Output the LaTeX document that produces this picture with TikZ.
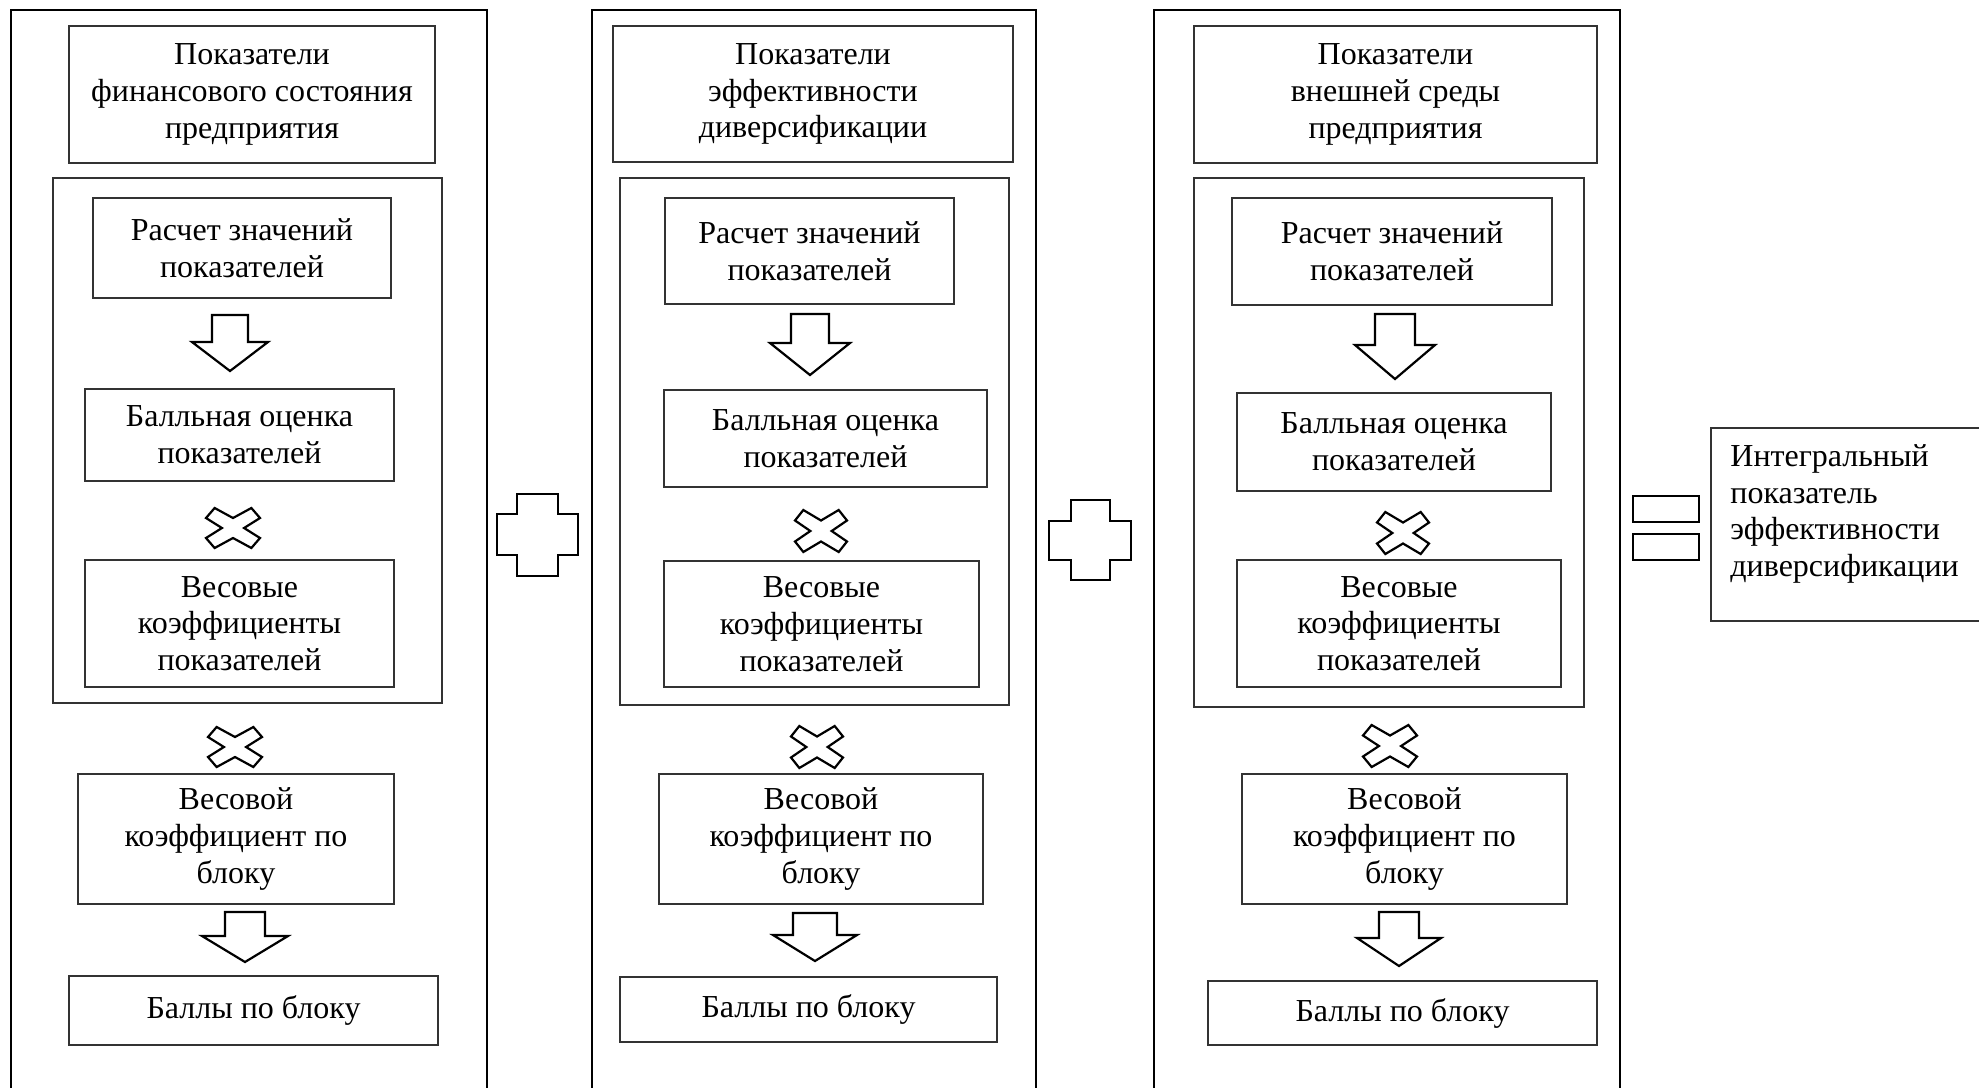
\documentclass[tikz,border=0pt]{standalone}
\usepackage{fontspec}
\setmainfont{Liberation Serif}
\tikzset{
  bx/.style={draw=black!80, line width=0.65pt, inner sep=0pt, align=center,
             font=\fontsize{16}{18.4}\selectfont},
  grp/.style={draw=black!80, line width=0.65pt, inner sep=0pt},
  outer/.style={draw=black, line width=1.3pt},
  sym/.style={draw=black, line width=1.1pt, line join=miter},
  txt/.style={inner sep=0pt, font=\fontsize{16}{18.4}\selectfont}
}
% rectangle node from corner pixels: [style]{name}{x1}{y1}{x2}{y2}{text}
\newcommand\bnode[7][bx]{%
  \node[#1, minimum width={(#5-#3)*0.5pt}, minimum height={(#6-#4)*0.5pt}]
    (#2) at ({(#3+#5)/2},{(#4+#6)/2}) {#7};}
% block arrow pointing down: cx, shaft half width, head half width, top, head top, tip
\newcommand\dnarrow[6]{%
  \draw[sym] ({#1-#2},#4) -- ({#1+#2},#4) -- ({#1+#2},#5) -- ({#1+#3},#5)
    -- (#1,#6) -- ({#1-#3},#5) -- ({#1-#2},#5) -- cycle;}
% multiplication sign: cx, cy, half width, half height
\newcommand\mulsign[4]{%
  \begin{scope}[shift={(#1,#2)}, xscale=#3, yscale=#4]
    \draw[sym] (0,0.5) -- (0.68,1) -- (1,0.5) -- (0.41,0) -- (1,-0.5) -- (0.68,-1)
      -- (0,-0.5) -- (-0.68,-1) -- (-1,-0.5) -- (-0.41,0) -- (-1,0.5) -- (-0.68,1) -- cycle;
  \end{scope}}
% plus sign: x1, x2 (outer), xi1, xi2 (inner), y1, y2 (outer), yi1, yi2 (inner)
\newcommand\plussign[8]{%
  \draw[sym] (#3,#5) -- (#4,#5) -- (#4,#7) -- (#2,#7) -- (#2,#8) -- (#4,#8) -- (#4,#6)
    -- (#3,#6) -- (#3,#8) -- (#1,#8) -- (#1,#7) -- (#3,#7) -- cycle;}
\begin{document}
\begin{tikzpicture}[x=0.5pt, y=-0.5pt]
\useasboundingbox (0,0) rectangle (1979,1087);
\fill[white] (0,0) rectangle (1979,1087);
\clip (0,0) rectangle (1979,1087);

% ---------- outer columns (open at the bottom) ----------
\draw[outer] (11,1100) -- (11,10) -- (487,10) -- (487,1100);
\draw[outer] (592,1100) -- (592,10) -- (1036,10) -- (1036,1100);
\draw[outer] (1154,1100) -- (1154,10) -- (1620,10) -- (1620,1100);

% ---------- column 1 ----------
\bnode{t1}{69}{26}{435}{163}{Показатели\\финансового состояния\\предприятия}
\bnode[grp]{g1}{53}{178}{442}{703}{}
\bnode{r1}{93}{198}{391}{298}{Расчет значений\\показателей}
\dnarrow{230}{18}{38}{315}{342}{371}
\bnode{b1}{85}{389}{394}{481}{Балльная оценка\\показателей}
\mulsign{233}{528}{27}{20}
\bnode{w1}{85}{560}{394}{687}{Весовые\\коэффициенты\\показателей}
\mulsign{235}{747}{27}{20}
\bnode{k1}{78}{774}{394}{904}{Весовой\\коэффициент по\\блоку}
\dnarrow{245}{20}{43}{912}{936}{962}
\bnode{s1}{69}{976}{438}{1045}{Баллы по блоку}

% ---------- plus 1 ----------
\plussign{497}{578}{517}{558}{494}{576}{514}{555}

% ---------- column 2 ----------
\bnode{t2}{613}{26}{1013}{162}{Показатели\\эффективности\\диверсификации}
\bnode[grp]{g2}{620}{178}{1009}{705}{}
\bnode{r2}{665}{198}{954}{304}{Расчет значений\\показателей}
\dnarrow{810}{19}{40}{314}{343}{375}
\bnode{b2}{664}{390}{987}{487}{Балльная оценка\\показателей}
\mulsign{821}{531}{26}{21}
\bnode{w2}{664}{561}{979}{687}{Весовые\\коэффициенты\\показателей}
\mulsign{817}{747}{26}{21}
\bnode{k2}{659}{774}{983}{904}{Весовой\\коэффициент по\\блоку}
\dnarrow{815}{22}{42}{913}{935}{961}
\bnode{s2}{620}{977}{997}{1042}{Баллы по блоку}

% ---------- plus 2 ----------
\plussign{1049}{1131}{1071}{1110}{500}{580}{521}{560}

% ---------- column 3 ----------
\bnode{t3}{1194}{26}{1597}{163}{Показатели\\внешней среды\\предприятия}
\bnode[grp]{g3}{1194}{178}{1584}{707}{}
\bnode{r3}{1232}{198}{1552}{305}{Расчет значений\\показателей}
\dnarrow{1395}{20}{40}{314}{345}{379}
\bnode{b3}{1237}{393}{1551}{491}{Балльная оценка\\показателей}
\mulsign{1403}{533}{26}{21}
\bnode{w3}{1237}{560}{1561}{687}{Весовые\\коэффициенты\\показателей}
\mulsign{1390}{746}{27}{21}
\bnode{k3}{1242}{774}{1567}{904}{Весовой\\коэффициент по\\блоку}
\dnarrow{1399}{20}{42}{912}{938}{966}
\bnode{s3}{1208}{981}{1597}{1045}{Баллы по блоку}

% ---------- equals sign ----------
\draw[sym] (1633,496) rectangle (1699,522);
\draw[sym] (1633,534) rectangle (1699,560);

% ---------- result ----------
\bnode{integ}{1711}{428}{1995}{621}{}
\node[txt, anchor=north west, align=left] (integtxt) at (1730,444)
  {Интегральный\\показатель\\эффективности\\диверсификации};
\end{tikzpicture}
\end{document}
